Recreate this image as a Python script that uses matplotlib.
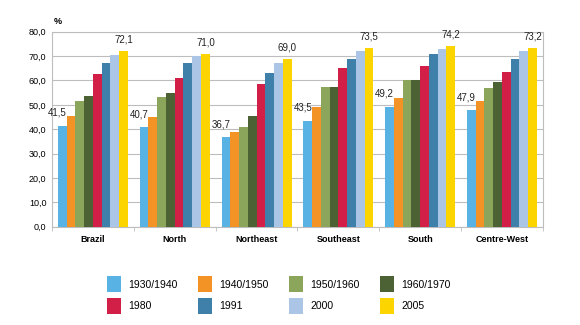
import numpy as np
import matplotlib.pyplot as plt
from matplotlib.patches import Patch

plt.rcParams['font.family'] = ['Liberation Sans Narrow', 'Liberation Sans', 'DejaVu Sans']

# Regions and periods
regions = ['Brazil', 'North', 'Northeast', 'Southeast', 'South', 'Centre-West']
periods = ['1930/1940', '1940/1950', '1950/1960', '1960/1970', '1980', '1991', '2000', '2005']
colors = ['#59B2E4', '#F39325', '#8BA65B', '#4C6134', '#D11F48', '#3F80AB', '#AAC5E5', '#FCD400']

# Values (%) per period, one entry per region
v_1930 = [41.5, 40.7, 36.7, 43.5, 49.2, 47.9]
v_1940 = [45.5, 44.8, 39.0, 49.0, 52.7, 51.4]
v_1950 = [51.6, 53.4, 41.1, 57.3, 60.3, 57.0]
v_1960 = [53.6, 54.7, 45.6, 57.3, 60.3, 59.3]
v_1980 = [62.6, 61.1, 58.5, 64.9, 66.0, 63.3]
v_1991 = [67.1, 67.1, 63.0, 69.0, 70.7, 68.8]
v_2000 = [70.5, 70.1, 67.1, 71.9, 72.9, 72.1]
v_2005 = [72.1, 71.0, 69.0, 73.5, 74.2, 73.2]
series = [v_1930, v_1940, v_1950, v_1960, v_1980, v_1991, v_2000, v_2005]

fig = plt.figure(figsize=(5.8, 3.25), dpi=100)
ax = fig.add_axes([0.0897, 0.3025, 0.8463, 0.600])

x = np.arange(len(regions))
n = len(series)
w = 0.107
grid_c = '#BDBDBD'

for i, vals in enumerate(series):
    pos = x + (i - (n - 1) / 2) * w
    ax.bar(pos, vals, width=w, color=colors[i], zorder=3)
    if i == 0:
        # first label sits to the left, ending at the bar's right edge
        for p, v in zip(pos, vals):
            ax.text(p + w / 2, v + 3.2, f'{v:.1f}'.replace('.', ','), ha='right', va='bottom',
                    fontsize=7, color='#222222')
    elif i == n - 1:
        for p, v in zip(pos, vals):
            ax.text(p, v + 2.6, f'{v:.1f}'.replace('.', ','), ha='center', va='bottom',
                    fontsize=7, color='#222222')

ax.set_xlim(-0.5, len(regions) - 0.5)
ax.set_ylim(0, 80)
ax.set_yticks(np.arange(0, 81, 10))
ax.set_yticklabels([f'{t:.1f}'.replace('.', ',') for t in np.arange(0, 81, 10)], fontsize=6.5)
ax.yaxis.grid(True, color=grid_c, linewidth=0.8, zorder=0)
ax.tick_params(axis='y', length=0, pad=4)

ax.set_xticks(x)
ax.set_xticklabels(regions, fontsize=6.5, fontweight='bold')
ax.set_xticks(np.arange(-0.5, len(regions), 1), minor=True)
ax.tick_params(axis='x', which='major', length=0, pad=6)
ax.tick_params(axis='x', which='minor', length=3, color=grid_c)

for s in ax.spines.values():
    s.set_color(grid_c)
    s.set_linewidth(0.8)

fig.text(0.093, 0.92, '%', fontsize=6.5, fontweight='bold', ha='left', va='bottom')

# legend filled row by row (matplotlib fills columns first)
handles = [Patch(facecolor=c, label=l) for c, l in zip(colors, periods)]
order = [0, 4, 1, 5, 2, 6, 3, 7]
fig.legend(handles=[handles[k] for k in order], ncol=4, loc='center',
           bbox_to_anchor=(0.481, 0.092), frameon=False, fontsize=7.5,
           handlelength=1.3, handleheight=2.0, columnspacing=2.0,
           handletextpad=0.7, labelspacing=0.5)

fig.savefig('out.png', dpi=100)
